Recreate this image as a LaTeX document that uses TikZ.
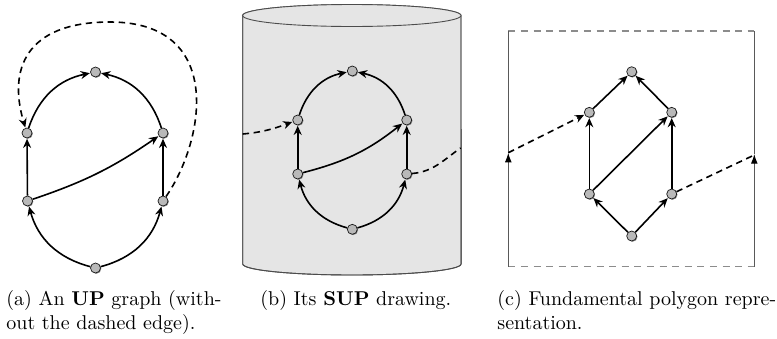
\documentclass[tikz,border=0pt]{standalone}
\usetikzlibrary{arrows.meta,shadows}
\begin{document}
\begin{tikzpicture}[x=0.5pt,y=-0.5pt,
  vtx/.style={circle,inner sep=0pt,minimum size=5pt,fill=gray!55,draw=black!90,line width=0.35pt,
    drop shadow={shadow xshift=0.4pt,shadow yshift=-0.4pt,fill=black!60,opacity=0.8}},
  edge/.style={line width=0.8pt,-{Stealth[length=4.6pt,width=4pt,inset=1.5pt]},shorten >=0.2pt},
  dedge/.style={edge,dash pattern=on 3.2pt off 2.3pt},
  cyl/.style={fill=gray!20,draw=black!70,line width=0.45pt},
  framesolid/.style={draw=black!65,line width=0.55pt},
  framedash/.style={draw=black!45,line width=0.7pt,dash pattern=on 3.5pt off 2.8pt},
  sidetip/.style={-{Latex[length=4.8pt,width=3.4pt,color=black]},draw=black!65,line width=0.55pt},
  captext/.style={anchor=base west,inner sep=0pt,font=\normalsize}]
\useasboundingbox (0,0) rectangle (777,338);

% ---------- (a) ----------
\node[vtx] (a-top) at (95.5,72) {};
\node[vtx] (a-lu) at (27,133) {};
\node[vtx] (a-ru) at (163,133) {};
\node[vtx] (a-ll) at (27.5,201) {};
\node[vtx] (a-rl) at (163,201) {};
\node[vtx] (a-bot) at (95.5,268) {};
\draw[edge] (a-lu) to[bend left=30] (a-top);
\draw[edge] (a-ru) to[bend right=30] (a-top);
\draw[edge] (a-ll) -- (a-lu);
\draw[edge] (a-rl) -- (a-ru);
\draw[edge] (a-ll) to[bend right=8] (a-ru);
\draw[edge] (a-bot) to[bend left=30] (a-ll);
\draw[edge] (a-bot) to[bend right=30] (a-rl);
\coordinate (a-loop) at (110,22);
\draw[dedge] (a-rl) .. controls (205,140) and (225,22) .. (a-loop)
   .. controls (25,22) and (8,70) .. (a-lu);

% ---------- (b) ----------
\path[cyl] (242.7,15.5) -- (242.7,264) arc[start angle=180,end angle=360,x radius=54.6pt,y radius=5.5pt]
   -- (461,15.5) arc[start angle=0,end angle=180,x radius=54.6pt,y radius=5.5pt] -- cycle;
\draw[cyl,fill=none] (242.7,15.5) -- (242.7,264) arc[start angle=180,end angle=360,x radius=54.6pt,y radius=5.5pt]
   -- (461,15.5);
\draw[cyl] (351.85,15.5) ellipse [x radius=54.6pt,y radius=5.5pt];
\node[vtx] (b-top) at (352.3,71) {};
\node[vtx] (b-lu) at (297.7,120) {};
\node[vtx] (b-ru) at (406.7,120) {};
\node[vtx] (b-ll) at (297.7,174) {};
\node[vtx] (b-rl) at (406.7,174) {};
\node[vtx] (b-bot) at (352.3,229.3) {};
\draw[edge] (b-lu) to[bend left=30] (b-top);
\draw[edge] (b-ru) to[bend right=30] (b-top);
\draw[edge] (b-ll) -- (b-lu);
\draw[edge] (b-rl) -- (b-ru);
\draw[edge] (b-ll) to[bend right=12] (b-ru);
\draw[edge] (b-bot) to[bend left=30] (b-ll);
\draw[edge] (b-bot) to[bend right=30] (b-rl);
\coordinate (b-wl) at (242.7,134);
\coordinate (b-wr) at (461,147.7);
\draw[dedge] (b-wl) to[out=5,in=200] (b-lu);
\draw[dedge,-] (b-rl) to[out=5,in=215] (b-wr);

% ---------- (c) ----------
\coordinate (c-bl) at (508.3,266.7);
\coordinate (c-tl) at (508.3,31);
\coordinate (c-br) at (754.3,266.7);
\coordinate (c-tr) at (754.3,31);
\coordinate (c-ml) at (508.3,152.7);
\coordinate (c-mr) at (754.3,154);
\draw[framedash] (c-tl) -- (c-tr);
\draw[framedash] (c-bl) -- (c-br);
\draw[sidetip] (c-bl) -- (c-ml);
\draw[framesolid] (c-ml) -- (c-tl);
\draw[sidetip] (c-br) -- (c-mr);
\draw[framesolid] (c-mr) -- (c-tr);
\node[vtx] (c-top) at (631.7,71.7) {};
\node[vtx] (c-lu) at (589.3,112.3) {};
\node[vtx] (c-ru) at (671.7,112.3) {};
\node[vtx] (c-ll) at (589.3,194) {};
\node[vtx] (c-rl) at (671.7,194) {};
\node[vtx] (c-bot) at (631.7,236) {};
\draw[edge] (c-lu) -- (c-top);
\draw[edge] (c-ru) -- (c-top);
\draw[edge] (c-ll) -- (c-lu);
\draw[edge] (c-rl) -- (c-ru);
\draw[edge] (c-ll) -- (c-ru);
\draw[edge] (c-bot) -- (c-ll);
\draw[edge] (c-bot) -- (c-rl);
\draw[dedge] (c-ml) -- (c-lu);
\draw[dedge,-] (c-rl) -- (754.3,155);

% ---------- captions ----------
\node[captext] (cap-a1) at (6,305) {(a) An \textbf{UP} graph (with-};
\node[captext] (cap-a2) at (6,329) {out the dashed edge).};
\node[captext] (cap-b1) at (260,305) {(b) Its \textbf{SUP} drawing.};
\node[captext] (cap-c1) at (497,305) {(c) Fundamental polygon repre-};
\node[captext] (cap-c2) at (497,329) {sentation.};
\end{tikzpicture}
\end{document}
